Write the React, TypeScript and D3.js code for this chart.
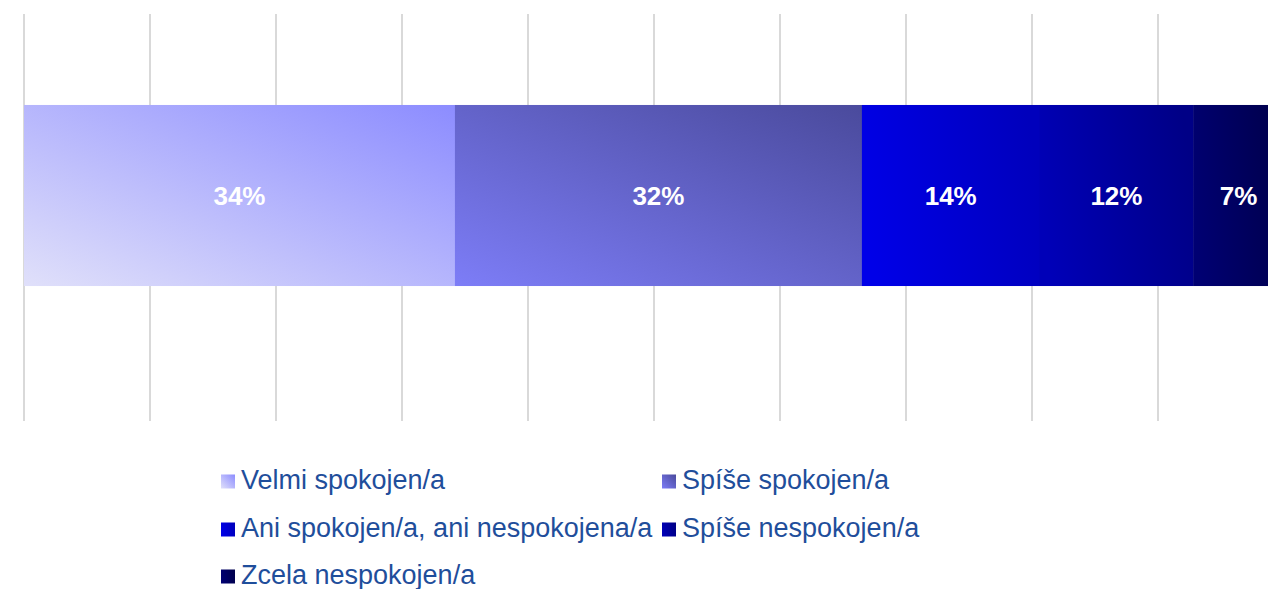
import React from "react";
import * as d3 from "d3";

const categories = ["Velmi spokojen/a", "Spíše spokojen/a", "Ani spokojen/a, ani nespokojena/a", "Spíše nespokojen/a", "Zcela nespokojen/a"];
const values = [34.2, 32.3, 14.1, 12.2, 7.2];
const labels = ["34%", "32%", "14%", "12%", "7%"];
const gridTicks = [0, 10, 20, 30, 40, 50, 60, 70, 80, 90, 100];
// gradient stops: [start (bottom-left), end (top-right)]
const gradStart = ["#e0e0fa", "#7d7df7", "#0000e8", "#0000b8", "#000072"];
const gradEnd = ["#8c8cff", "#4a4a9c", "#0000bc", "#000086", "#00004c"];

export default function App() {
  const W = 1268, H = 589;
  const x = d3.scaleLinear().domain([0, 100]).range([24, 1284]);
  const y = d3.scaleBand<string>().domain(["Q"]).range([60, 331]).paddingInner(0.199).paddingOuter(0.199);
  const stacked = d3.stack<any>().keys(categories)([Object.fromEntries(categories.map((c, i) => [c, values[i]]))]);
  const by = y("Q")!;
  const bh = y.bandwidth();

  const legendCols = [221, 662];
  const legendRows = [489, 537, 584];

  return (
    <div style={{ position: "absolute", left: 0, top: 0 }}>
      <svg width={W} height={H} style={{ display: "block", overflow: "hidden" }} fontFamily="'Liberation Sans', Arial, sans-serif">
        <defs>
          {categories.map((c, i) => (
            <linearGradient key={c} id={`g${i}`} x1="0" y1={i < 2 ? "1" : "0.6"} x2="1" y2={i < 2 ? "0" : "0.4"}>
              <stop offset="0" stopColor={gradStart[i]} />
              <stop offset="1" stopColor={gradEnd[i]} />
            </linearGradient>
          ))}
        </defs>
        <rect width={W} height={H} fill="#fff" />
        {gridTicks.map((t) => (
          <line key={t} x1={x(t)} x2={x(t)} y1={14} y2={421} stroke="#d9d9d9" strokeWidth={2} />
        ))}
        {stacked.map((s, i) => {
          const d = s[0];
          const x0 = x(d[0]);
          const x1 = x(d[1]);
          return (
            <g key={categories[i]}>
              <rect x={x0} y={by} width={x1 - x0 + 0.5} height={bh} fill={`url(#g${i})`} />
              <text x={(x0 + x1) / 2} y={by + bh / 2} dy="0.35em" textAnchor="middle" fill="#fff" fontWeight="bold" fontSize={26}>
                {labels[i]}
              </text>
            </g>
          );
        })}
        {categories.map((c, i) => {
          const lx = legendCols[i % 2];
          const ly = legendRows[Math.floor(i / 2)];
          return (
            <g key={c}>
              <rect x={lx} y={ly - 14.5} width={14} height={14} fill={`url(#g${i})`} />
              <text x={lx + 20} y={ly} fill="#1f4e9b" fontSize={27}>
                {c}
              </text>
            </g>
          );
        })}
      </svg>
    </div>
  );
}
